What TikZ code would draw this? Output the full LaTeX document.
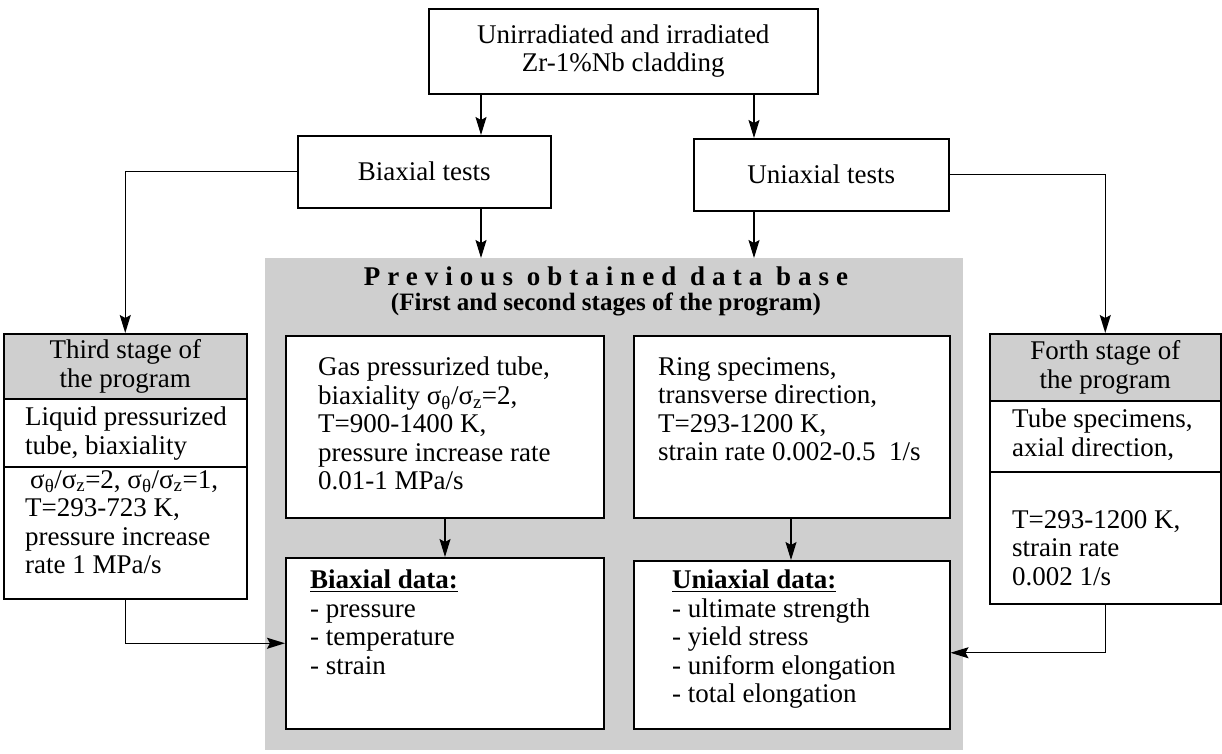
\documentclass[tikz,border=0pt]{standalone}
\usepackage{fontspec}
\setmainfont{Liberation Serif}
\usetikzlibrary{arrows.meta,calc}
\begin{document}
\begin{tikzpicture}[x=1pt,y=-1pt,
  every node/.style={font=\fontsize{27}{28.5}\selectfont, inner sep=0pt},
  box/.style={draw, line width=1.5pt, fill=white, anchor=north west},
  shadebox/.style={draw, line width=1.5pt, fill=black!19, anchor=north west, align=center},
  txt/.style={anchor=north west, align=left},
  arr/.style={line width=1.3pt, -{Stealth[length=18pt,width=11pt,inset=3pt]}},
]
\useasboundingbox (0,0) rectangle (1222,753);

% shaded data base region
\node[fill=black!19, anchor=north west, minimum width=698pt, minimum height=492pt] (db) at (265,258) {};
\node (t1) at (606,276) {\bfseries\addfontfeature{LetterSpace=26}Previous obtained data base};
\node (t2) at (606,304) {\fontsize{25}{27}\selectfont\bfseries (First and second stages of the program)};

% top boxes
\node[box, minimum width=389pt, minimum height=85pt, align=center] (top) at (428,8) {Unirradiated and irradiated\\Zr-1\%Nb cladding};
\node[box, minimum width=253pt, minimum height=72pt] (biax) at (297,135) {Biaxial tests};
\node[box, minimum width=255pt, minimum height=72pt] (uniax) at (693,138) {Uniaxial tests};

% inner boxes
\node[box, minimum width=318pt, minimum height=182pt] (gas) at (285,335) {};
\node[box, minimum width=316pt, minimum height=182pt] (ring) at (633,335) {};
\node[box, minimum width=318pt, minimum height=171pt] (bdata) at (285,557) {};
\node[box, minimum width=316pt, minimum height=168pt] (udata) at (633,560) {};

\node[txt] (gastxt) at (318,357) {Gas pressurized tube,\\biaxiality σ\textsubscript{θ}/σ\textsubscript{z}=2,\\T=900-1400 K,\\pressure increase rate\\0.01-1 MPa/s};
\node[txt] (ringtxt) at (658,357) {Ring specimens,\\transverse direction,\\T=293-1200 K,\\strain rate 0.002-0.5\ \ 1/s};
\node[txt] (bdtxt) at (310,570) {\textbf{\underline{Biaxial data:}}\\- pressure\\- temperature\\- strain};
\node[txt] (udtxt) at (672,570) {\textbf{\underline{Uniaxial data:}}\\- ultimate strength\\- yield stress\\- uniform elongation\\- total elongation};

% third stage
\node[shadebox, minimum width=243pt, minimum height=65pt] (third1) at (3,333) {Third stage of\\the program};
\node[box, minimum width=243pt, minimum height=68pt] (third2) at (3,398) {};
\node[box, minimum width=243pt, minimum height=132pt] (third3) at (3,466) {};
\node[txt] (th2txt) at (25,407) {Liquid pressurized\\tube, biaxiality};
\node[txt] (th3txt) at (25,470) {\hspace{5pt}σ\textsubscript{θ}/σ\textsubscript{z}=2, σ\textsubscript{θ}/σ\textsubscript{z}=1,\\T=293-723 K,\\pressure increase\\rate 1 MPa/s};

% forth stage
\node[shadebox, minimum width=231pt, minimum height=67pt] (forth1) at (989,333) {Forth stage of\\the program};
\node[box, minimum width=231pt, minimum height=71pt] (forth2) at (989,400) {};
\node[box, minimum width=231pt, minimum height=132pt] (forth3) at (989,471) {};
\node[txt] (fo2txt) at (1012,409) {Tube specimens,\\axial direction,};
\node[txt] (fo3txt) at (1012,510) {T=293-1200 K,\\strain rate\\0.002 1/s};

% connectors
\coordinate (xa) at (481,0);
\coordinate (xb) at (754,0);
\coordinate (xc) at (445,0);
\coordinate (xd) at (791,0);
\draw[arr] (top.south -| xa) -- (biax.north -| xa);
\draw[arr] (top.south -| xb) -- (uniax.north -| xb);
\draw[arr] (biax.south -| xa) -- (db.north -| xa);
\draw[arr] (uniax.south -| xb) -- (db.north -| xb);
\draw[arr] (biax.west) -| (third1.north);
\draw[arr] (uniax.east) -| (forth1.north);
\draw[arr] (gas.south -| xc) -- (bdata.north -| xc);
\draw[arr] (ring.south -| xd) -- (udata.north -| xd);
\draw[arr] (third3.south) |- (bdata.west);
\draw[arr] (forth3.south) |- ([yshift=-8pt]udata.east);
\end{tikzpicture}
\end{document}
